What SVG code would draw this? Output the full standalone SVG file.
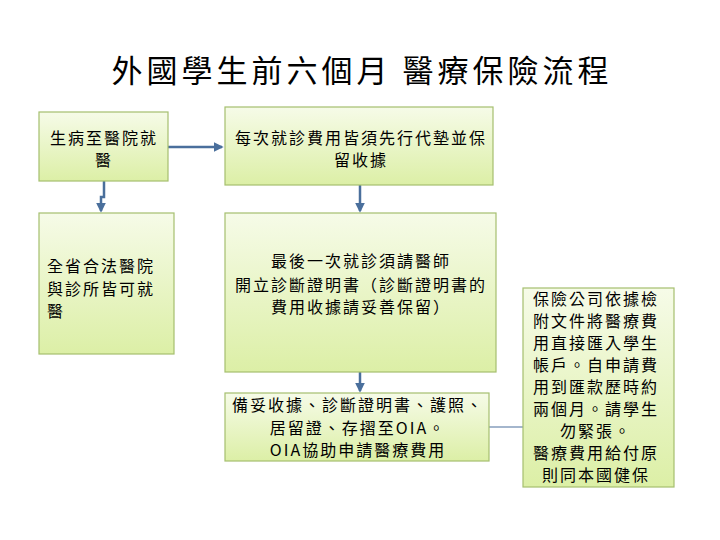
<svg xmlns="http://www.w3.org/2000/svg" width="720" height="540" viewBox="0 0 720 540">
<defs>
<linearGradient id="g" x1="0" y1="0" x2="0" y2="1">
<stop offset="0" stop-color="#f6fbe8"/>
<stop offset="1" stop-color="#dcefa6"/>
</linearGradient>
<marker id="ah" viewBox="0 0 6 6" refX="5" refY="3" markerWidth="4" markerHeight="4" orient="auto">
<path d="M0,0 L6,3 L0,6 z" fill="#4a6f9c"/>
</marker>
<style>
.box{fill:url(#g);stroke:#a5bf6e;stroke-width:1.2}
.t{font-family:"Noto Sans CJK TC","Noto Sans CJK SC",sans-serif;font-size:16px;letter-spacing:2px;fill:#000}
.c{text-anchor:middle}
.title{font-family:"Noto Sans CJK TC","Noto Sans CJK SC",sans-serif;font-size:31px;fill:#000;text-anchor:middle;letter-spacing:4px}
.cn{fill:none;stroke:#4a6f9c;stroke-width:2.5}
.cn2{fill:none;stroke:#4a6f9c;stroke-width:1.2}
</style>
</defs>
<rect width="720" height="540" fill="#fff"/>
<text class="title" x="362" y="82">外國學生前六個月 醫療保險流程</text>

<g id="connectors">
<path class="cn" d="M168,147 L222,147" marker-end="url(#ah)"/>
<path class="cn" d="M104,181 L104,197 L101,197 L101,211" marker-end="url(#ah)"/>
<path class="cn" d="M360,185 L360,211" marker-end="url(#ah)"/>
<path class="cn" d="M360,372 L360,391" marker-end="url(#ah)"/>
<path class="cn2" d="M489,427 L523,427"/>
</g>

<g id="n1">
<rect class="box" x="39" y="112" width="129" height="69"/>
<text class="t c" x="104" y="144">生病至醫院就</text>
<text class="t c" x="104" y="166">醫</text>
</g>
<g id="n2">
<rect class="box" x="225" y="107" width="268" height="78"/>
<text class="t c" x="361" y="144">每次就診費用皆須先行代墊並保</text>
<text class="t c" x="361" y="166">留收據</text>
</g>
<g id="n3">
<rect class="box" x="39" y="213" width="135" height="141"/>
<text class="t" x="47" y="272">全省合法醫院</text>
<text class="t" x="47" y="295">與診所皆可就</text>
<text class="t" x="47" y="317">醫</text>
</g>
<g id="n4">
<rect class="box" x="225" y="213" width="271" height="159"/>
<text class="t c" x="361" y="267">最後一次就診須請醫師</text>
<text class="t c" x="361" y="291">開立診斷證明書（診斷證明書的</text>
<text class="t c" x="361" y="313">費用收據請妥善保留）</text>
</g>
<g id="n5">
<rect class="box" x="225" y="393" width="264" height="68"/>
<text class="t c" x="358" y="411">備妥收據、診斷證明書、護照、</text>
<text class="t c" x="358" y="434">居留證、存摺至OIA。</text>
<text class="t c" x="358" y="456">OIA協助申請醫療費用</text>
</g>
<g id="n6">
<rect class="box" x="523" y="288" width="151" height="199"/>
<text class="t c" x="596" y="305">保險公司依據檢</text>
<text class="t c" x="596" y="327">附文件將醫療費</text>
<text class="t c" x="596" y="349">用直接匯入學生</text>
<text class="t c" x="596" y="371">帳戶。自申請費</text>
<text class="t c" x="596" y="393">用到匯款歷時約</text>
<text class="t c" x="596" y="415">兩個月。請學生</text>
<text class="t c" x="596" y="437">勿緊張。</text>
<text class="t c" x="596" y="459">醫療費用給付原</text>
<text class="t c" x="596" y="481">則同本國健保</text>
</g>
</svg>
